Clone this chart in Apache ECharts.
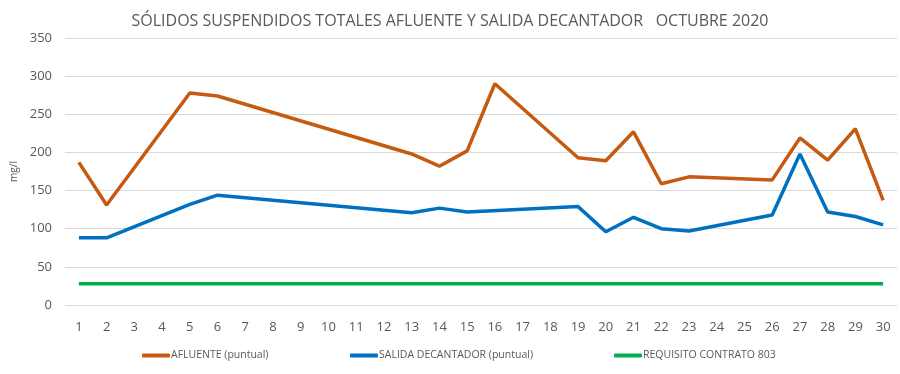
<!DOCTYPE html>
<html><head><meta charset="utf-8">
<script src="https://cdn.jsdelivr.net/npm/echarts@6/dist/echarts.min.js"></script>
<style>html,body{margin:0;padding:0;background:#fff}#c{width:900px;height:374px}</style>
</head><body><div id="c"></div>
<script>
const days = ['1','2','3','4','5','6','7','8','9','10','11','12','13','14','15','16','17','18','19','20','21','22','23','24','25','26','27','28','29','30'];
const afluente = [187,131,null,null,278,274,null,null,null,null,null,null,198,182,202,290,null,null,193,189,227,159,168,null,null,164,219,190,231,137];
const salida = [88,88,null,null,132,144,null,null,null,null,null,null,121,127,122,null,null,null,129,96,115,100,97,null,null,118,198,122,116,105];
const requisito = [28,28,28,28,28,28,28,28,28,28,28,28,28,28,28,28,28,28,28,28,28,28,28,28,28,28,28,28,28,28];
const yTicks = [0,50,100,150,200,250,300,350];
const names = ['AFLUENTE (puntual)','SALIDA DECANTADOR (puntual)','REQUISITO CONTRATO 803'];
const colors = ['#C55A11','#0070C0','#00B050'];

const chart = echarts.init(document.getElementById('c'), null, {renderer:'canvas'});
const ff = 'Open Sans';
const legendLefts = [137, 345, 609];
chart.setOption({
  animation:false,
  title:{text:'SÓLIDOS SUSPENDIDOS TOTALES AFLUENTE Y SALIDA DECANTADOR   OCTUBRE 2020',left:'center',top:8,
    textStyle:{fontFamily:ff,fontSize:16,fontWeight:'normal',color:'#595959'}},
  legend: names.map((n,i)=>({data:[n],left:legendLefts[i],top:345,itemWidth:28,itemHeight:4,itemGap:0,
    icon:'roundRect',textStyle:{fontFamily:ff,fontSize:10.5,color:'#595959',padding:[0,0,0,-4]}})),
  grid:{left:65,right:3,top:38,bottom:69},
  xAxis:{type:'category',data:days,boundaryGap:true,
    axisLine:{show:false},axisTick:{show:false},
    axisLabel:{fontFamily:ff,fontSize:13,color:'#595959',margin:16}},
  yAxis:{type:'value',min:yTicks[0],max:yTicks[yTicks.length-1],interval:50,
    name:'mg/l',nameLocation:'middle',nameGap:46,nameRotate:90,
    nameTextStyle:{fontFamily:ff,fontSize:10,color:'#595959'},
    axisLine:{show:false},axisTick:{show:false},
    axisLabel:{fontFamily:ff,fontSize:13,color:'#595959',margin:13},
    splitLine:{lineStyle:{color:'#d9d9d9',width:1}}},
  series:[
    {name:names[0],type:'line',data:afluente,connectNulls:true,symbol:'none',lineStyle:{color:colors[0],width:3.5},itemStyle:{color:colors[0]}},
    {name:names[1],type:'line',data:salida,connectNulls:true,symbol:'none',lineStyle:{color:colors[1],width:3.5},itemStyle:{color:colors[1]}},
    {name:names[2],type:'line',data:requisito,symbol:'none',lineStyle:{color:colors[2],width:3.5},itemStyle:{color:colors[2]}}
  ]
});
</script></body></html>
